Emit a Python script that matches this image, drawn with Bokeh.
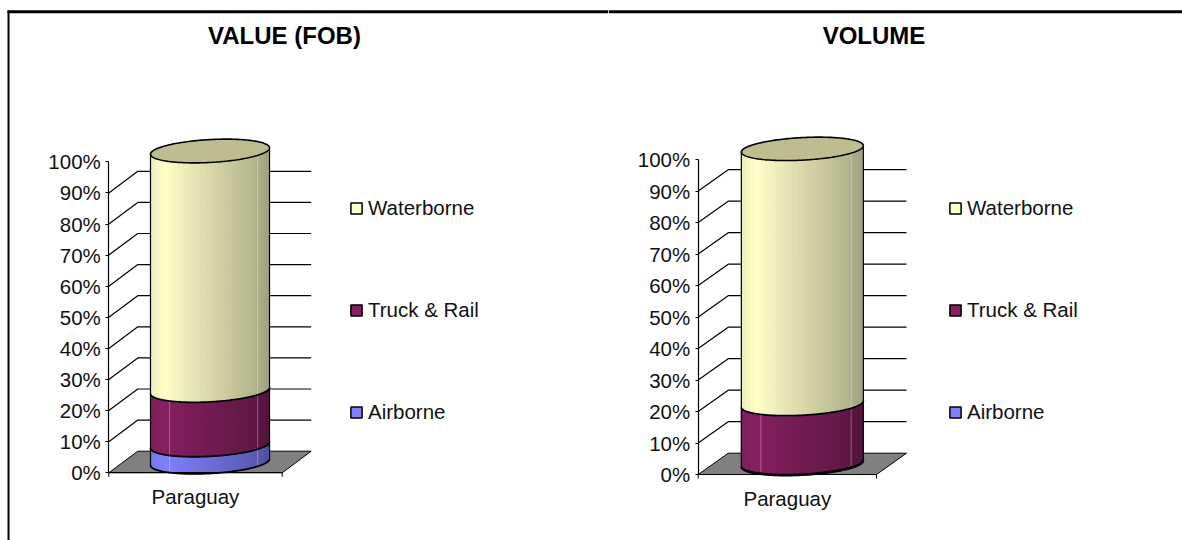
import numpy as np
from bokeh.core.properties import value
from bokeh.embed import file_html
from bokeh.layouts import row
from bokeh.models import FixedTicker, Legend, LegendItem, PrintfTickFormatter, Range1d
from bokeh.plotting import figure
from bokeh.resources import INLINE

categories = ["Paraguay"]
modes = ["Airborne", "Truck & Rail", "Waterborne"]
value_fob = [5.5, 17.5, 77]
volume = [0.3, 18.7, 81]
percent_ticks = list(range(0, 101, 10))
titles = ["VALUE (FOB)", "VOLUME"]
mode_colors = ["#8080FF", "#862060", "#FFFFC8"]
lid_color = "#BDBD90"

FONT = "Liberation Sans"
TICK_SIZE = "20.5px"


def shade(hex_color, k):
    c = [int(hex_color[i:i + 2], 16) for i in (1, 3, 5)]
    return "#%02x%02x%02x" % tuple(int(round(v * k)) for v in c)


def panel(title, shares, left, width, axis_px, zero_px, unit_w, per_pct,
          depth_x, depth_y, cyl_r, title_px, legend_px, draw_left_rule):
    top_px, bottom_px = 0, 540
    to_x = lambda px: (px - axis_px) / unit_w
    to_y = lambda px: (zero_px - px) / per_pct
    p = figure(width=width, height=bottom_px - top_px, output_backend="svg", toolbar_location=None,
               x_range=Range1d(to_x(left), to_x(left + width)),
               y_range=Range1d(to_y(bottom_px), to_y(top_px)),
               min_border=0, min_border_left=0, min_border_right=0, min_border_top=0, min_border_bottom=0,
               outline_line_color=None)
    p.grid.visible = False

    dx, dy = depth_x / unit_w, depth_y / per_pct

    # Floor and back-wall lines
    p.patch([0, 1, 1 + dx, dx], [0, 0, dy, dy], fill_color="#808080", line_color="black", line_width=1)
    grid = [t for t in percent_ticks if 0 < t < 100]
    p.multi_line([[0, dx, 1 + dx] for _ in grid], [[t, t + dy, t + dy] for t in grid],
                 line_color="black", line_width=1.2)
    # x axis end ticks
    p.segment([0, 1], [0, 0], [0, 1], [-4 / per_pct] * 2, line_color="black", line_width=1)

    # Cylinder
    b_px = 0.55 * depth_x
    c_px = depth_y * 0.55
    a_px = np.sqrt(cyl_r ** 2 - b_px ** 2)
    t0 = np.arctan2(b_px, a_px)
    cx = 0.5 + dx / 2
    cy0 = dy / 2
    u = np.linspace(0, np.pi, 241)
    fx = -np.cos(u)
    fy = np.sin(t0 + np.pi + u)
    front_x = cx + fx * cyl_r / unit_w
    front_y = fy * c_px / per_pct

    levels = np.concatenate([[0], np.cumsum(shares)])
    n_bands = 26
    edges = np.linspace(-1, 1, n_bands + 1)
    xs, ys, cols = [], [], []
    for i, col in enumerate(mode_colors):
        lo, hi = levels[i], levels[i + 1]
        for j in range(n_bands):
            f = (j + 0.5) / n_bands
            k = np.interp(f, [0, 0.12, 0.5, 0.85, 1], [0.93, 1.0, 0.85, 0.72, 0.63])
            ex = np.linspace(edges[j], edges[j + 1], 6)
            ey = np.interp(ex, fx, fy) * c_px / per_pct
            bx = cx + ex * cyl_r / unit_w
            xs.append(list(bx) + list(bx[::-1]))
            ys.append(list(cy0 + lo + ey) + list((cy0 + hi + ey)[::-1]))
            cols.append(shade(col, k))
    p.patches(xs, ys, fill_color=cols, line_color=cols, line_width=1)

    # faint highlight streaks
    for f in (0.16, 0.9):
        e = 2 * f - 1
        ex = cx + e * cyl_r / unit_w
        ey = np.interp(e, fx, fy) * c_px / per_pct
        p.line([ex, ex], [cy0 + ey, cy0 + 100 + ey], line_color="white", line_alpha=0.3, line_width=1)

    # Outlines
    for lev in levels[:-1]:
        p.line(front_x, cy0 + lev + front_y, line_color="black", line_width=1.8)
    p.line([cx - cyl_r / unit_w] * 2, [cy0 + fy[0] * c_px / per_pct, cy0 + 100 + fy[0] * c_px / per_pct],
           line_color="black", line_width=1.2)
    p.line([cx + cyl_r / unit_w] * 2, [cy0 + fy[-1] * c_px / per_pct, cy0 + 100 + fy[-1] * c_px / per_pct],
           line_color="black", line_width=1.2)
    t = np.linspace(0, 2 * np.pi, 200)
    lid_x = cx + (a_px * np.cos(t) + b_px * np.sin(t)) / unit_w
    lid_y = cy0 + 100 + c_px * np.sin(t) / per_pct
    p.patch(lid_x, lid_y, fill_color=lid_color, line_color="black", line_width=1.6)

    # Axes, placed inside the frame
    y = p.yaxis[0]
    y.fixed_location = 0
    y.bounds = (0, 100)
    y.ticker = FixedTicker(ticks=percent_ticks)
    y.minor_tick_line_color = None
    y.formatter = PrintfTickFormatter(format="%d%%")
    y.major_tick_in = 0
    y.major_tick_out = 3
    y.major_label_standoff = 5
    y.major_label_text_font = FONT
    y.major_label_text_font_size = TICK_SIZE
    y.major_label_text_color = "#111111"
    y.axis_line_width = 1.2
    x = p.xaxis[0]
    x.fixed_location = 0
    x.bounds = (0, 1)
    x.ticker = FixedTicker(ticks=[0.5])
    x.minor_tick_line_color = None
    x.major_tick_line_color = None
    x.major_label_overrides = {0.5: categories[0]}
    x.major_label_standoff = 6
    x.major_label_text_font = FONT
    x.major_label_text_font_size = TICK_SIZE
    x.major_label_text_color = "#111111"
    x.axis_line_width = 1.2

    # Title and page rules
    p.text(x=[to_x(title_px)], y=[to_y(35)], text=[title], text_align="center", text_baseline="middle",
           text_font=value(FONT), text_font_style="bold", text_font_size="24px", text_color="black")
    rule_start = 7 if draw_left_rule else left
    p.segment([to_x(rule_start)], [to_y(11.3)], [to_x(left + width)], [to_y(11.3)],
              line_color="black", line_width=3)
    if draw_left_rule:
        p.segment([to_x(8)], [to_y(10)], [to_x(8)], [to_y(bottom_px)], line_color="black", line_width=2)

    # Legend swatches come from quads parked outside the visible range
    far = to_x(left) - 50
    items = []
    for name, col in zip(modes[::-1], mode_colors[::-1]):
        r = p.quad(left=[far], right=[far + 1], top=[1], bottom=[0],
                   fill_color=col, line_color="black", line_width=1.5)
        items.append(LegendItem(label=name, renderers=[r]))
    lg = Legend(items=items, location=(legend_px - left, 116), orientation="vertical",
                background_fill_alpha=0, border_line_color=None, padding=0, margin=0,
                spacing=78, glyph_width=14, glyph_height=14, label_standoff=5, label_height=22,
                label_text_font=FONT, label_text_font_size="20.5px", label_text_color="#111111")
    p.add_layout(lg, "center")
    return p


p1 = panel(titles[0], value_fob, 0, 608, 108.3, 472.3, 173.4, 3.11, 29, 21.6, 59.5, 284, 349, True)
p2 = panel(titles[1], volume, 608, 574, 697.7, 474, 178.3, 3.15, 30, 21.3, 61, 873.5, 948, False)

open("out.html", "w").write(file_html(row(p1, p2), INLINE))
